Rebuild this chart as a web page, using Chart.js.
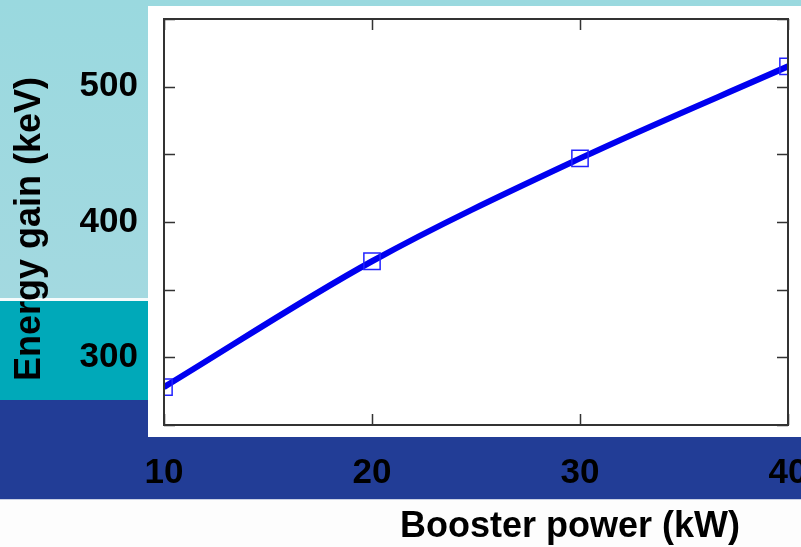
<!DOCTYPE html>
<html>
<head>
<meta charset="utf-8">
<script src="https://cdn.jsdelivr.net/npm/chart.js@4"></script>
<style>
  html, body { margin: 0; padding: 0; background: #fff; }
  #wrap { width: 801px; height: 547px; }
</style>
</head>
<body>
<div id="wrap"><canvas id="gainChart" width="801" height="547"></canvas></div>
<script>
// booster power (kW) vs energy gain (keV)
const power = [10, 20, 30, 40];
const gain = [278, 371, 447, 515];
const yLabels = [300, 400, 500];

const FONT = '"Liberation Sans", Arial, sans-serif';

// keep the plot box fixed: no extra room for overhanging tick labels
function noOverhang(s) {
    s.paddingLeft = 0; s.paddingRight = 0;
    s.paddingTop = 0; s.paddingBottom = 0;
}

// slide background, white panel, frame, inner ticks, axis titles
const slide = {
    id: 'slide',
    beforeDraw(chart) {
        const c = chart.ctx;
        const W = chart.width;
        c.save();
        const g = c.createLinearGradient(0, 0, 0, 298);
        g.addColorStop(0, '#9ad9df');
        g.addColorStop(1, '#a3d9e0');
        c.fillStyle = g;
        c.fillRect(0, 0, W, 298);
        c.fillStyle = '#f4fbfc';
        c.fillRect(0, 298, W, 3);
        c.fillStyle = '#00a9b9';
        c.fillRect(0, 301, W, 99);
        c.fillStyle = '#223d96';
        c.fillRect(0, 400, W, 99);
        c.fillStyle = '#c9d0e4';
        c.fillRect(0, 499, W, 1);
        c.fillStyle = '#fdfdfd';
        c.fillRect(0, 500, W, 47);
        // white panel behind the plot
        c.fillStyle = '#ffffff';
        c.fillRect(148, 6, W - 148, 431);
        c.restore();
    },
    afterDraw(chart) {
        const c = chart.ctx;
        const a = chart.chartArea;
        const x = chart.scales.x, y = chart.scales.y;
        c.save();
        c.strokeStyle = '#333';
        c.lineWidth = 2;
        c.strokeRect(a.left, a.top, a.right - a.left, a.bottom - a.top);
        c.lineWidth = 1.5;
        c.beginPath();
        y.ticks.forEach(t => {
            const py = Math.round(y.getPixelForValue(t.value)) + 0.5;
            c.moveTo(a.left, py); c.lineTo(a.left + 11, py);
            c.moveTo(a.right, py); c.lineTo(a.right - 11, py);
        });
        x.ticks.forEach(t => {
            const px = Math.round(x.getPixelForValue(t.value)) + 0.5;
            c.moveTo(px, a.bottom); c.lineTo(px, a.bottom - 11);
            c.moveTo(px, a.top); c.lineTo(px, a.top + 11);
        });
        c.stroke();

        c.fillStyle = '#000';
        c.font = 'bold 36px ' + FONT;
        c.textAlign = 'center';
        c.textBaseline = 'middle';
        c.fillText('Booster power (kW)', 570, 527);
        c.translate(30, 229);
        c.rotate(-Math.PI / 2);
        c.fillText('Energy gain (keV)', 0, 0);
        c.restore();
    }
};

new Chart(document.getElementById('gainChart'), {
    type: 'line',
    data: {
        labels: power,
        datasets: [{
            data: gain,
            borderColor: '#0000f0',
            borderWidth: 6,
            cubicInterpolationMode: 'monotone',
            pointStyle: 'rect',
            pointRadius: 11.5,
            pointHoverRadius: 11.5,
            pointBorderWidth: 1.5,
            pointBorderColor: '#2222ff',
            pointBackgroundColor: 'rgba(0,0,0,0)'
        }]
    },
    options: {
        responsive: false,
        animation: false,
        layout: { padding: { left: 0, top: 19, right: 13, bottom: 0 } },
        plugins: { legend: { display: false }, tooltip: { enabled: false } },
        scales: {
            x: {
                type: 'linear',
                min: 10, max: 40,
                afterFit(s) { s.height = 122; noOverhang(s); },
                grid: { display: false, drawTicks: false },
                border: { display: false },
                ticks: {
                    stepSize: 10,
                    padding: 27,
                    color: '#000',
                    font: { family: FONT, size: 35, weight: 'bold' }
                }
            },
            y: {
                min: 250, max: 550,
                afterFit(s) { s.width = 164; noOverhang(s); },
                grid: { display: false, drawTicks: false },
                border: { display: false },
                ticks: {
                    stepSize: 50,
                    padding: 26,
                    color: '#000',
                    font: { family: FONT, size: 35, weight: 'bold' },
                    callback: v => yLabels.includes(v) ? v : ''
                }
            }
        }
    },
    plugins: [slide]
});
</script>
</body>
</html>
